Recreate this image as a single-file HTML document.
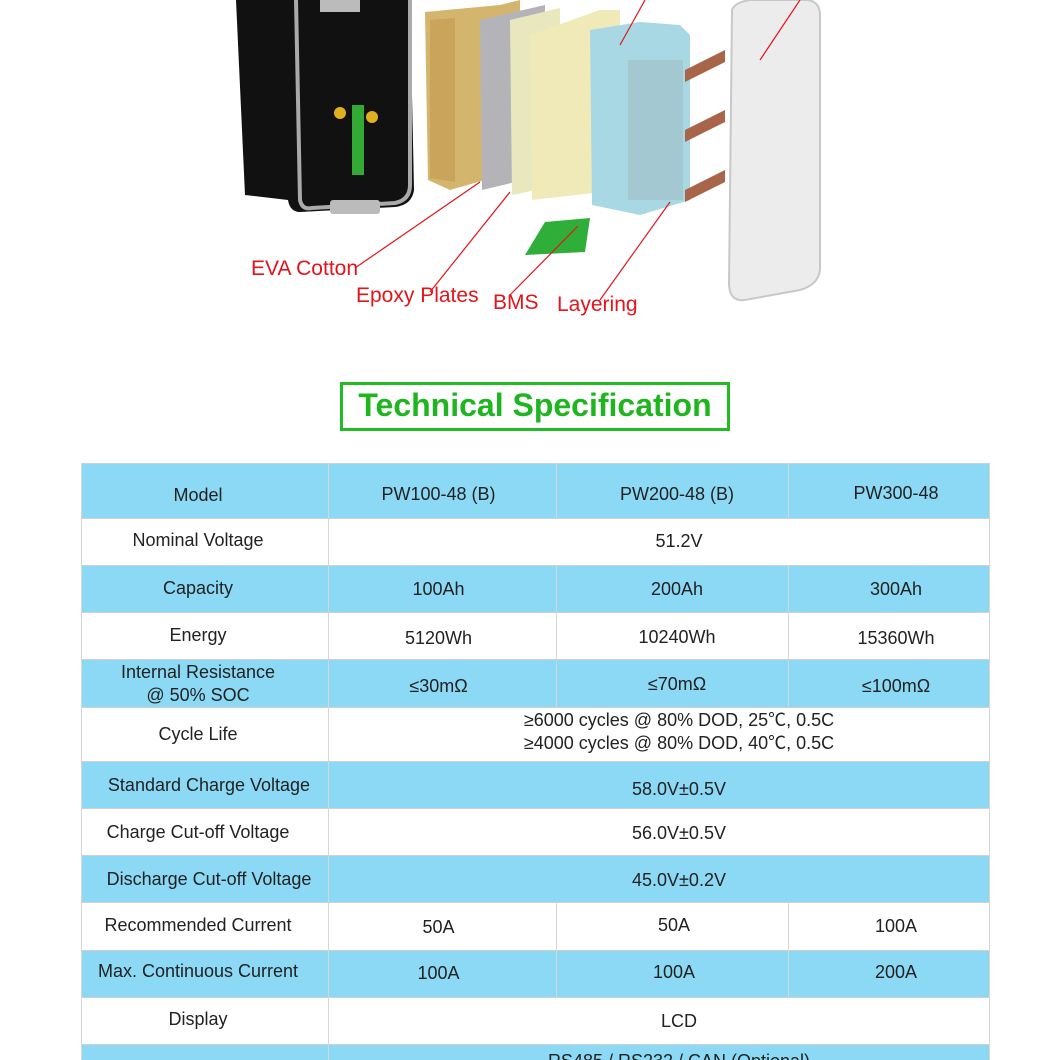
<!DOCTYPE html>
<html><head><meta charset="utf-8">
<style>
html,body{margin:0;padding:0;background:#fff;width:1060px;height:1060px;overflow:hidden;position:relative}
.t{position:absolute;font-family:"Liberation Sans","Noto Sans CJK KR",sans-serif;font-size:18px;color:#222;text-align:center;white-space:nowrap;line-height:23px}
.r{position:absolute;left:81px;width:909px}
.b{background:#8bd9f5}
.v{position:absolute;width:1px;background:#d6d6d6}
.h{position:absolute;left:81px;width:909px;height:1px;background:#d0d0d0}
.lbl{position:absolute;font-family:"Liberation Sans",sans-serif;font-size:21px;color:#e3141b;white-space:nowrap}
</style></head><body>
<svg width="1060" height="330" style="position:absolute;left:0;top:0">
 <path d="M236 0 L410 0 L414 190 Q412 205 395 207 L300 212 Q290 212 288 200 L245 195 Z" fill="#111"/>
 <path d="M296 0 L300 200 Q302 210 312 208 L395 203 Q410 200 410 185 L410 0" fill="none" stroke="#aaa" stroke-width="4"/>
 <rect x="320" y="0" width="40" height="12" fill="#bbb"/>
 <circle cx="340" cy="113" r="6" fill="#e0b020"/><circle cx="372" cy="117" r="6" fill="#e0b020"/>
 <rect x="352" y="105" width="12" height="70" fill="#3a3"/>
 <rect x="330" y="200" width="50" height="14" rx="3" fill="#bbb"/>
 <path d="M425 12 L500 5 L520 0 L520 170 L450 190 L428 180 Z" fill="#d4b56e"/>
 <path d="M430 20 L455 18 L455 182 L430 178 Z" fill="#c9a45a"/>
 <path d="M480 20 L545 5 L545 175 L482 190 Z" fill="#b4b4b8"/>
 <path d="M510 20 L560 8 L560 185 L512 195 Z" fill="#e9e7bd"/>
 <path d="M530 35 L600 10 L620 10 L620 190 L532 200 Z" fill="#efeab8"/>
 <path d="M590 30 L640 22 L680 25 L690 35 L690 200 L640 215 L592 205 Z" fill="#a8d8e4"/>
 <rect x="628" y="60" width="55" height="140" fill="#9fb8c0" opacity="0.5"/>
 <path d="M685 70 L725 50 L725 62 L685 82 Z" fill="#a8654a"/>
 <path d="M685 130 L725 110 L725 122 L685 142 Z" fill="#a8654a"/>
 <path d="M685 190 L725 170 L725 182 L685 202 Z" fill="#a8654a"/>
 <path d="M732 10 Q735 2 750 0 L808 0 Q820 2 820 15 L820 270 Q818 285 800 290 L745 300 Q730 302 729 285 Z" fill="#ececec" stroke="#c8c8c8" stroke-width="2"/>
 <path d="M545 222 L590 218 L585 252 L525 255 Z" fill="#2fae3a"/>
 <g stroke="#e3141b" stroke-width="1.2" fill="none">
  <line x1="355" y1="268" x2="480" y2="182"/>
  <line x1="430" y1="292" x2="510" y2="192"/>
  <line x1="510" y1="295" x2="578" y2="226"/>
  <line x1="600" y1="300" x2="670" y2="202"/>
  <line x1="620" y1="45" x2="645" y2="0"/>
  <line x1="760" y1="60" x2="800" y2="0"/>
 </g>
</svg>
<div class="lbl" style="left:251px;top:257px">EVA Cotton</div>
<div class="lbl" style="left:356px;top:284px">Epoxy Plates</div>
<div class="lbl" style="left:493px;top:291px">BMS</div>
<div class="lbl" style="left:557px;top:293px">Layering</div>

<div style="position:absolute;left:340px;top:382px;width:384px;height:43px;border:3px solid #22bb22"></div>
<div style="position:absolute;left:340px;top:385px;width:390px;text-align:center;font-family:'Liberation Sans',sans-serif;font-weight:bold;font-size:32px;color:#1fb51f;line-height:40px">Technical Specification</div>

<div class="r b" style="top:463px;height:55px"></div>
<div class="r b" style="top:565px;height:47px"></div>
<div class="r b" style="top:659px;height:48px"></div>
<div class="r b" style="top:761px;height:47px"></div>
<div class="r b" style="top:855px;height:47px"></div>
<div class="r b" style="top:950px;height:47px"></div>
<div class="r b" style="top:1044px;height:16px"></div>
<div class="h" style="top:463px"></div>
<div class="h" style="top:518px"></div><div class="h" style="top:565px"></div><div class="h" style="top:612px"></div><div class="h" style="top:659px"></div><div class="h" style="top:707px"></div><div class="h" style="top:761px"></div><div class="h" style="top:808px"></div><div class="h" style="top:855px"></div><div class="h" style="top:902px"></div><div class="h" style="top:950px"></div><div class="h" style="top:997px"></div><div class="h" style="top:1044px"></div>
<div class="v" style="left:81px;top:463px;height:597px"></div>
<div class="v" style="left:989px;top:463px;height:597px"></div>
<div class="v" style="left:328px;top:463px;height:597px"></div>
<div class="v" style="left:556px;top:463px;height:55px"></div>
<div class="v" style="left:788px;top:463px;height:55px"></div>
<div class="v" style="left:556px;top:565px;height:142px"></div>
<div class="v" style="left:788px;top:565px;height:142px"></div>
<div class="v" style="left:556px;top:902px;height:95px"></div>
<div class="v" style="left:788px;top:902px;height:95px"></div>

<div class="t" style="left:81px;width:234px;top:484px">Model</div>
<div class="t" style="left:81px;width:234px;top:529px">Nominal Voltage</div>
<div class="t" style="left:81px;width:234px;top:577px">Capacity</div>
<div class="t" style="left:81px;width:234px;top:624px">Energy</div>
<div class="t" style="left:81px;width:234px;top:661px">Internal Resistance<br>@ 50% SOC</div>
<div class="t" style="left:81px;width:234px;top:723px">Cycle Life</div>
<div class="t" style="left:81px;width:256px;top:774px">Standard Charge Voltage</div>
<div class="t" style="left:81px;width:234px;top:821px">Charge Cut-off Voltage</div>
<div class="t" style="left:81px;width:256px;top:868px">Discharge Cut-off Voltage</div>
<div class="t" style="left:81px;width:234px;top:914px">Recommended Current</div>
<div class="t" style="left:81px;width:234px;top:960px">Max. Continuous Current</div>
<div class="t" style="left:81px;width:234px;top:1008px">Display</div>

<div class="t" style="left:329px;width:219px;top:483px">PW100-48 (B)</div>
<div class="t" style="left:329px;width:219px;top:578px">100Ah</div>
<div class="t" style="left:329px;width:219px;top:627px">5120Wh</div>
<div class="t" style="left:329px;width:219px;top:675px">≤30mΩ</div>
<div class="t" style="left:329px;width:219px;top:916px">50A</div>
<div class="t" style="left:329px;width:219px;top:962px">100A</div>
<div class="t" style="left:557px;width:240px;top:483px">PW200-48 (B)</div>
<div class="t" style="left:557px;width:240px;top:578px">200Ah</div>
<div class="t" style="left:557px;width:240px;top:626px">10240Wh</div>
<div class="t" style="left:557px;width:240px;top:673px">≤70mΩ</div>
<div class="t" style="left:557px;width:234px;top:914px">50A</div>
<div class="t" style="left:557px;width:234px;top:961px">100A</div>
<div class="t" style="left:789px;width:214px;top:482px">PW300-48</div>
<div class="t" style="left:789px;width:214px;top:578px">300Ah</div>
<div class="t" style="left:789px;width:214px;top:627px">15360Wh</div>
<div class="t" style="left:789px;width:214px;top:675px">≤100mΩ</div>
<div class="t" style="left:789px;width:214px;top:915px">100A</div>
<div class="t" style="left:789px;width:214px;top:961px">200A</div>
<div class="t" style="left:329px;width:700px;top:530px">51.2V</div>
<div class="t" style="left:329px;width:700px;top:709px">≥6000 cycles @ 80% DOD, 25℃, 0.5C<br>≥4000 cycles @ 80% DOD, 40℃, 0.5C</div>
<div class="t" style="left:329px;width:700px;top:778px">58.0V±0.5V</div>
<div class="t" style="left:329px;width:700px;top:822px">56.0V±0.5V</div>
<div class="t" style="left:329px;width:700px;top:869px">45.0V±0.2V</div>
<div class="t" style="left:329px;width:700px;top:1010px">LCD</div>
<div class="t" style="left:329px;width:700px;top:1050px">RS485 / RS232 / CAN (Optional)</div>
</body></html>
